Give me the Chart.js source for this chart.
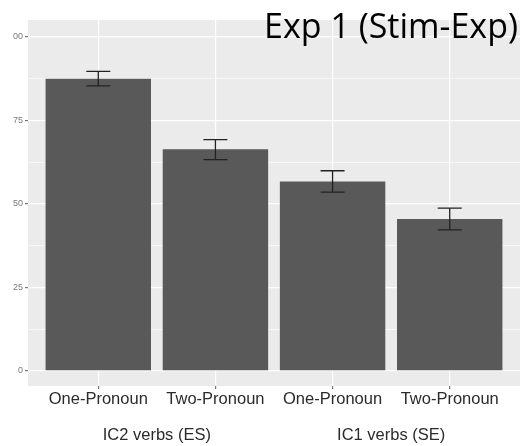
<!DOCTYPE html>
<html>
<head>
<meta charset="utf-8">
<script src="https://cdn.jsdelivr.net/npm/chart.js@4/dist/chart.umd.min.js"></script>
<style>
  html, body { margin: 0; padding: 0; background: #fff; }
  #wrap { width: 521px; height: 446px; }
</style>
</head>
<body>
<div id="wrap"><canvas id="grafico"></canvas></div>
<script>
// dados
const conditions = ['One-Pronoun', 'Two-Pronoun', 'One-Pronoun', 'Two-Pronoun'];
const groups = ['IC2 verbs (ES)', 'IC1 verbs (SE)'];
const means = [87.4, 66.3, 56.7, 45.5];
const errLow = [85.3, 63.2, 53.5, 42.2];
const errHigh = [89.6, 69.2, 59.9, 48.7];
const yTicks = [0, 12.5, 25, 37.5, 50, 62.5, 75, 87.5, 100];
const chartTitle = 'Exp 1 (Stim-Exp)';

const panelBg = {
    id: 'panelBg',
    beforeDraw(chart) {
        const { ctx, chartArea: a } = chart;
        ctx.save();
        ctx.fillStyle = '#ebebeb';
        ctx.fillRect(a.left, a.top, a.right - a.left, a.bottom - a.top);
        ctx.restore();
    }
};

const errorBars = {
    id: 'errorBars',
    afterDatasetsDraw(chart) {
        const { ctx, scales: { x, y } } = chart;
        ctx.save();
        ctx.strokeStyle = '#222';
        ctx.lineWidth = 1.3;
        means.forEach((m, i) => {
            const px = x.getPixelForValue(i + 1);
            const top = y.getPixelForValue(errHigh[i]);
            const bot = y.getPixelForValue(errLow[i]);
            ctx.beginPath();
            ctx.moveTo(px, top); ctx.lineTo(px, bot);
            ctx.moveTo(px - 12, top); ctx.lineTo(px + 12, top);
            ctx.moveTo(px - 12, bot); ctx.lineTo(px + 12, bot);
            ctx.stroke();
        });
        ctx.restore();
    }
};

const extraText = {
    id: 'extraText',
    afterDraw(chart) {
        const { ctx, scales: { x } } = chart;
        ctx.save();
        ctx.fillStyle = '#2b2b2b';
        ctx.font = '16.5px "Liberation Sans", Arial, sans-serif';
        ctx.textAlign = 'center';
        ctx.textBaseline = 'middle';
        groups.forEach((g, i) => {
            const px = (x.getPixelForValue(i * 2 + 1) + x.getPixelForValue(i * 2 + 2)) / 2;
            ctx.fillText(g, px, 435);
        });
        ctx.fillStyle = '#000';
        ctx.font = '34px "Open Sans", sans-serif';
        ctx.textAlign = 'right';
        ctx.textBaseline = 'alphabetic';
        ctx.fillText(chartTitle, 518, 38);
        ctx.restore();
    }
};

new Chart(document.getElementById('grafico'), {
    type: 'bar',
    data: {
        datasets: [{
            data: means.map((v, i) => ({ x: i + 1, y: v })),
            backgroundColor: '#595959',
            borderWidth: 0,
            categoryPercentage: 1,
            barPercentage: 0.9
        }]
    },
    options: {
        responsive: true,
        maintainAspectRatio: false,
        animation: false,
        layout: { padding: { top: 20, right: 1, left: 0, bottom: 0 } },
        plugins: { legend: { display: false }, tooltip: { enabled: false } },
        scales: {
            x: {
                type: 'linear',
                min: 0.4,
                max: 4.6,
                offset: false,
                afterBuildTicks: (s) => { s.ticks = conditions.map((c, i) => ({ value: i + 1 })); },
                afterFit: (s) => { s.height = 60; },
                border: { display: false },
                grid: { offset: false, color: '#fff', lineWidth: 1.2, tickLength: 3, tickColor: '#777' },
                ticks: {
                    padding: 1,
                    color: '#2b2b2b',
                    font: { family: '"Liberation Sans", Arial, sans-serif', size: 16.5 },
                    callback: (v) => conditions[v - 1] || ''
                }
            },
            y: {
                min: -4.5,
                max: 105,
                afterBuildTicks: (s) => { s.ticks = yTicks.map(v => ({ value: v })); },
                afterFit: (s) => { s.width = 28; },
                border: { display: false },
                grid: {
                    color: '#fff',
                    lineWidth: (c) => (c.tick && c.tick.value % 25 === 0) ? 1.2 : 0.6,
                    tickLength: 3,
                    tickColor: (c) => (c.tick && c.tick.value % 25 === 0) ? '#777' : 'rgba(0,0,0,0)'
                },
                ticks: {
                    padding: 2,
                    color: '#7a7a7a',
                    font: { family: '"Liberation Sans", Arial, sans-serif', size: 9 },
                    callback: (v) => v % 25 !== 0 ? '' : (v === 100 ? '00' : v)
                }
            }
        }
    },
    plugins: [panelBg, errorBars, extraText]
});
</script>
</body>
</html>
